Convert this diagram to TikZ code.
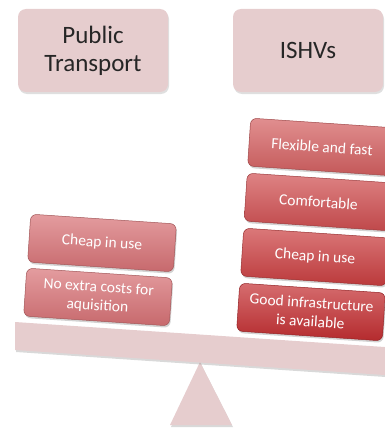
\documentclass[tikz,border=0pt]{standalone}
\usepackage{fontspec}
\setmainfont{Carlito}
\usetikzlibrary{shadows}
\definecolor{pinkbg}{HTML}{E6CDCE}
\definecolor{redA}{HTML}{D45F60}
\definecolor{redB}{HTML}{D04E50}
\definecolor{redC}{HTML}{CB3E40}
\definecolor{redD}{HTML}{C42E31}
\definecolor{redL}{HTML}{D87276}
\tikzset{
  topbox/.style={fill=pinkbg, rounded corners=8pt, minimum width=150pt, minimum height=83pt,
    font=\fontsize{25}{28}\selectfont, align=center, text=black!85,
    drop shadow={shadow xshift=1pt, shadow yshift=-2pt, opacity=0.25}},
  stackbox/.style={rounded corners=6pt, minimum width=146pt, minimum height=48pt, text=white,
    font=\fontsize{15.5}{18.5}\selectfont, align=center, rotate=-3.87, inner sep=1pt,
    draw=#1!75!black, line width=0.5pt, top color=#1!70!white, bottom color=#1!92!black,
    drop shadow={shadow xshift=1pt, shadow yshift=-2pt, opacity=0.35}},
  pivot/.style={fill=pinkbg, drop shadow={shadow xshift=1pt, shadow yshift=-2pt, opacity=0.3}}
}
\begin{document}
\begin{tikzpicture}[x=1pt,y=-1pt]
\useasboundingbox (0,0) rectangle (385,428);
% fulcrum and beam
\fill[pivot] (200,362) -- (232,425) -- (170,425) -- cycle;
\fill[pivot] (15,322) -- (392,347.5) -- (392,375.5) -- (15,350) -- cycle;
% headers
\node[topbox] (pt) at (93,50.5) {Public\\Transport};
\node[topbox] (ishv) at (308,50.5) {ISHVs};
% left stack
\node[stackbox=redL] (l1) at (98,297) {No extra costs for\\aquisition};
\node[stackbox=redL] (l2) at (102,243) {Cheap in use};
% right stack
\node[stackbox=redD] (r1) at (311,312) {Good infrastructure\\is available};
\node[stackbox=redC] (r2) at (315,257) {Cheap in use};
\node[stackbox=redB] (r3) at (318.5,202) {Comfortable};
\node[stackbox=redA] (r4) at (322,147) {Flexible and fast};
\end{tikzpicture}
\end{document}
